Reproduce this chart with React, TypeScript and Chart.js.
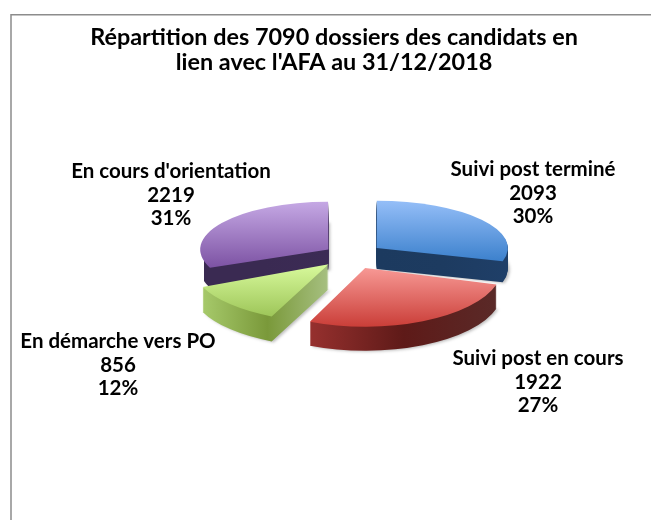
import React, { useEffect, useRef } from "react";
import { Chart, registerables } from "chart.js";

Chart.register(...registerables);

const categories = ["Suivi post terminé", "Suivi post en cours", "En démarche vers PO", "En cours d'orientation"];
const dossiers = [2093, 1922, 856, 2219];
const titleLines = ["Répartition des 7090 dossiers des candidats en", "lien avec l'AFA au 31/12/2018"];

// Look of the fake-3D pie, slice by slice
const sliceOffsets = [128, 128, 128, 112];
const squashX = [1.0, 1.05, 0.98, 0.97];
const squashY = [0.36, 0.45, 0.41, 0.36];
const depths = [21, 24, 25, 20];
const sideClipLeft = [0, 0, 0, 204];
const topStops = [
  { y0: 202, y1: 262, c0: "#93BDF7", c1: "#3B80CC" },
  { y0: 267, y1: 328, c0: "#F89A96", c1: "#C93C36" },
  { y0: 266, y1: 318, c0: "#D6F89A", c1: "#9CC457" },
  { y0: 202, y1: 268, c0: "#C5A8E4", c1: "#7C52A3" },
];
const sideStops = [
  { x0: 378, x1: 507, stops: ["#1C3A5F", "#1D3B60", "#1F3F68"] },
  { x0: 310, x1: 498, stops: ["#96302E", "#5E1A18", "#5A2A28"] },
  { x0: 203, x1: 332, stops: ["#A6C96A", "#7A993A", "#A9C285"] },
  { x0: 199, x1: 328, stops: ["#3A2A52", "#3A2A52", "#3C2B55"] },
];
const drawOrder = [0, 3, 2, 1];
const pieCentre = { x: 351, y: 255 };
const labelCentres = [
  { x: 533, y: 169 },
  { x: 538, y: 358 },
  { x: 118, y: 341 },
  { x: 171, y: 171 },
];

const fakePie3d = {
  id: "fakePie3d",
  beforeDatasetDraw(chart: any) {
    const { ctx } = chart;
    const arcs = chart.getDatasetMeta(0).data;
    for (const i of drawOrder) {
      const arc = arcs[i];
      const base = arc.options;
      const mid = (arc.startAngle + arc.endAngle) / 2;
      // ArcElement moves a slice by a quarter of its offset option
      const offX = Math.cos(mid) * (base.offset / 4);
      const offY = Math.sin(mid) * (base.offset / 4);
      const sx = squashX[i];
      const sy = squashY[i];
      const lx = (X: number) => arc.x + (X - pieCentre.x) / sx - offX;
      const ly = (Y: number) => arc.y + (Y - pieCentre.y) / sy - offY;

      const side = sideStops[i];
      const sg = ctx.createLinearGradient(lx(side.x0), 0, lx(side.x1), 0);
      side.stops.forEach((c: string, k: number) => sg.addColorStop(k / (side.stops.length - 1), c));
      const top = topStops[i];
      const tg = ctx.createLinearGradient(0, ly(top.y0), 0, ly(top.y1));
      tg.addColorStop(0, top.c0);
      tg.addColorStop(1, top.c1);

      const paint = (dy: number, fill: any, shadow: boolean, clipLeft: number) => {
        ctx.save();
        if (clipLeft > 0) {
          ctx.beginPath();
          ctx.rect(clipLeft, 0, chart.width - clipLeft, chart.height);
          ctx.clip();
        }
        if (shadow) {
          ctx.shadowColor = "rgba(0,0,0,0.25)";
          ctx.shadowBlur = 3;
          ctx.shadowOffsetX = 2;
          ctx.shadowOffsetY = 1;
        }
        ctx.translate(pieCentre.x, pieCentre.y + dy);
        ctx.scale(sx, sy);
        ctx.translate(-arc.x, -arc.y);
        arc.options = { ...base, backgroundColor: fill };
        arc.draw(ctx);
        arc.options = base;
        ctx.restore();
      };
      paint(depths[i], sg, true, sideClipLeft[i]);
      for (let d = depths[i] - 1; d >= 1; d--) paint(d, sg, false, sideClipLeft[i]);
      paint(0, tg, false, 0);
    }
    return false;
  },
  afterDraw(chart: any) {
    const { ctx } = chart;
    const total = dossiers.reduce((a, b) => a + b, 0);
    ctx.save();
    ctx.strokeStyle = "#8c8c8c";
    ctx.lineWidth = 1.5;
    ctx.beginPath();
    ctx.moveTo(11, 520);
    ctx.lineTo(11, 14.75);
    ctx.lineTo(651, 14.75);
    ctx.stroke();
    ctx.fillStyle = "#000000";
    ctx.font = "bold 20.5px Lato";
    ctx.textAlign = "center";
    ctx.textBaseline = "middle";
    categories.forEach((name, i) => {
      const p = labelCentres[i];
      ctx.fillText(name, p.x, p.y);
      ctx.fillText(String(dossiers[i]), p.x, p.y + 24);
      ctx.fillText(Math.round((dossiers[i] / total) * 100) + "%", p.x, p.y + 47);
    });
    ctx.restore();
  },
};

export default function App() {
  const ref = useRef<HTMLCanvasElement>(null);
  useEffect(() => {
    const chart = new Chart(ref.current as HTMLCanvasElement, {
      type: "pie",
      data: {
        labels: categories,
        datasets: [{ data: dossiers, backgroundColor: ["#4F81BD", "#C0504D", "#9BBB59", "#8064A2"], borderWidth: 0, offset: sliceOffsets }],
      },
      options: {
        responsive: false,
        animation: false,
        radius: 130,
        rotation: 0,
        layout: { padding: { left: 17, right: 0, top: 0, bottom: 0 } },
        plugins: {
          legend: { display: false },
          tooltip: { enabled: false },
          title: {
            display: true,
            text: titleLines,
            color: "#000000",
            font: { family: "Lato", weight: "bold", size: 23.4, lineHeight: 1.07 },
            padding: { top: 25, bottom: 10 },
          },
        },
      },
      plugins: [fakePie3d],
    } as any);
    return () => chart.destroy();
  }, []);
  return (
    <div style={{ position: "absolute", left: 0, top: 0, width: 651, height: 520, background: "#fff" }}>
      <canvas ref={ref} width={651} height={520} style={{ display: "block", filter: "blur(0.4px)" }} />
    </div>
  );
}
